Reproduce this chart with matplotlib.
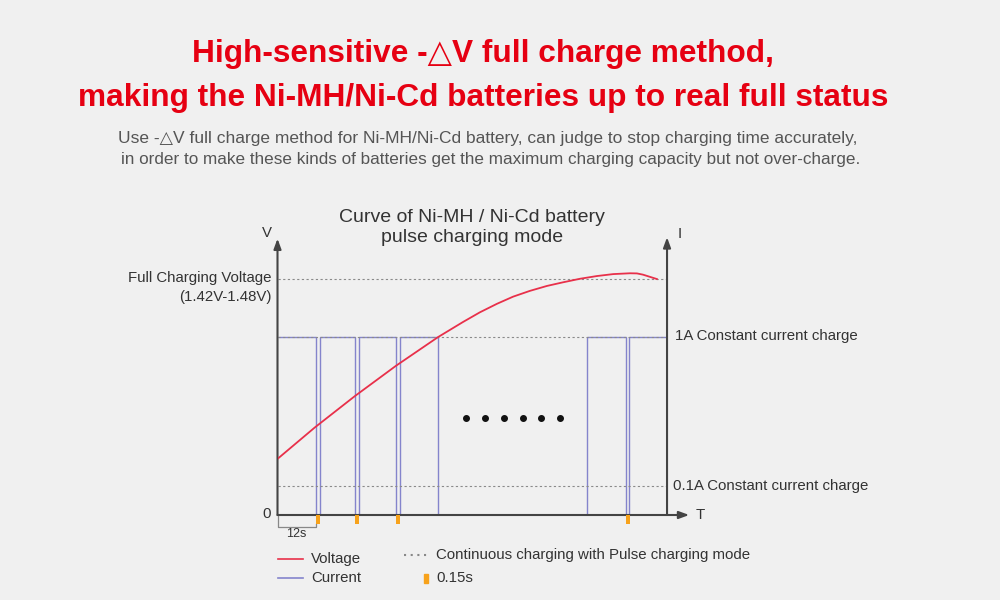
import matplotlib
matplotlib.use("Agg")
import matplotlib.pyplot as plt
from matplotlib.lines import Line2D
from matplotlib.patches import Rectangle

plt.rcParams['font.family'] = ['Liberation Sans', 'DejaVu Sans']

# schematic chart: time in seconds (12 s between pulses), height in % of axis
voltage_t = [0, 11.8, 24.5, 37.4, 50.7, 58.6, 63.9, 69.3, 74.4, 79.7, 85.1,
             90.1, 95.5, 100.9, 106.0, 111.3, 113.5, 115.4, 117.6, 119.8]
voltage_lvl = [20.4, 31.85, 43.3, 54.25, 64.7, 70.2, 73.7, 76.8, 79.4, 81.5, 83.3,
               84.6, 85.9, 86.9, 87.6, 87.9, 87.85, 87.4, 86.6, 85.8]

full_v = 85.8      # full charging voltage line
i_high = 64.7      # 1A constant current
i_low = 10.5       # 0.1A constant current

# current trace: values between edges (1A on, 0 during the pulse gap)
current_edges = [0, 12.0, 13.4, 24.5, 25.7, 37.4, 38.7, 50.7, 97.7, 110.0, 111.0, 123.0]
current_vals = [i_high, 0, i_high, 0, i_high, 0, i_high, 0, i_high, 0, i_high]

pulse_start = [12.0, 24.5, 37.4, 110.0]
pulse_len = [1.4, 1.3, 1.3, 1.2]

dots_t = [59.5, 65.6, 71.6, 77.4, 83.2, 89.2]
dots_lvl = 35.2

t_axis_i = 123.0   # position of the current (I) axis
t_max = 130.0

bg = '#f0f0f0'
red = '#e8304a'
blue = '#8484cc'
orange = '#f7a21b'
axis_col = '#444444'
txt = '#333333'
fs = 10.8

fig = plt.figure(figsize=(10, 6), dpi=100, facecolor=bg)
ax = fig.add_axes([0.2775, 1 - 515 / 600, 0.4117, 275 / 600])
ax.set_facecolor(bg)
ax.set_xlim(0, t_max)
ax.set_ylim(0, 100)
for s in ax.spines.values():
    s.set_visible(False)
ax.set_xticks([])
ax.set_yticks([])

# reference lines
for lvl in [full_v, i_high, i_low]:
    ax.plot([0, t_axis_i], [lvl, lvl], color='#8a8a8a', lw=0.8,
            linestyle=(0, (2, 2.2)), zorder=3)

# current and voltage
ax.stairs(current_vals, current_edges, baseline=None, color=blue, lw=1.0, zorder=2)
ax.plot(voltage_t, voltage_lvl, color=red, lw=1.3, zorder=4)

# dots
ax.scatter(dots_t, [dots_lvl] * len(dots_t), s=16, color='#111111', zorder=5)

# pulse marks under the time axis
ax.bar(pulse_start, -3.3, width=pulse_len, align='edge', color=orange,
       clip_on=False, zorder=5)

# axes with arrows
arw = dict(arrowstyle='-|>,head_length=0.6,head_width=0.22', color=axis_col,
           lw=1.5, shrinkA=0, shrinkB=0)
ax.annotate('', xy=(0, 100.5), xytext=(0, 0), arrowprops=arw, annotation_clip=False)
ax.annotate('', xy=(t_axis_i, 101), xytext=(t_axis_i, 0), arrowprops=arw,
            annotation_clip=False)
ax.annotate('', xy=(t_max, 0), xytext=(0, 0), arrowprops=arw, annotation_clip=False)

ax.text(-3.2, 102.5, 'V', ha='center', va='center', fontsize=fs, color=txt)
ax.text(t_axis_i + 4.0, 102.2, 'I', ha='center', va='center', fontsize=fs, color=txt)
ax.text(-3.5, 0.2, '0', ha='center', va='center', fontsize=fs, color=txt)
ax.text(t_max + 2.0, 0, 'T', ha='left', va='center', fontsize=fs, color=txt)

# 12s bracket
ax.plot([0, 0, 12.0, 12.0], [0, -4.4, -4.4, -3.3], color='#888888', lw=0.9,
        clip_on=False)
ax.text(6.0, -6.8, '12s', ha='center', va='center', fontsize=9, color=txt)

# side labels
ax.text(-2.0, full_v + 0.3, 'Full Charging Voltage', ha='right', va='center',
        fontsize=fs, color=txt)
ax.text(-2.0, full_v - 6.6, '(1.42V-1.48V)', ha='right', va='center',
        fontsize=fs, color=txt)
ax.text(t_axis_i + 2.5, i_high + 0.3, '1A Constant current charge', ha='left',
        va='center', fontsize=fs, color=txt)
ax.text(t_axis_i + 2.0, i_low, '0.1A Constant current charge', ha='left',
        va='center', fontsize=fs, color=txt)

# chart title
ax.text(61.5, 104.6, 'Curve of Ni-MH / Ni-Cd battery\npulse charging mode',
        ha='center', va='center', fontsize=14, color=txt, linespacing=1.25)

# headline
fig.text(0.483, 1 - 54 / 600, 'High-sensitive -\u25b3V full charge method,',
         ha='center', va='center', fontsize=22.8, weight='bold', color='#e60012')
fig.text(0.483, 1 - 98 / 600, 'making the Ni-MH/Ni-Cd batteries up to real full status',
         ha='center', va='center', fontsize=22.8, weight='bold', color='#e60012')
fig.text(0.488, 1 - 139 / 600,
         'Use -\u25b3V full charge method for Ni-MH/Ni-Cd battery, can judge to stop charging time accurately,',
         ha='center', va='center', fontsize=12.5, color='#555555')
fig.text(0.491, 1 - 160 / 600,
         'in order to make these kinds of batteries get the maximum charging capacity but not over-charge.',
         ha='center', va='center', fontsize=12.3, color='#555555')

# legend
y1, y2 = 1 - 559 / 600, 1 - 578 / 600
fig.add_artist(Line2D([0.278, 0.303], [y1, y1], color=red, lw=1.2))
fig.add_artist(Line2D([0.278, 0.303], [y2, y2], color=blue, lw=1.2))
fig.text(0.311, y1, 'Voltage', ha='left', va='center', fontsize=fs, color=txt)
fig.text(0.311, y2, 'Current', ha='left', va='center', fontsize=fs, color=txt)
y3 = 1 - 555 / 600
fig.add_artist(Line2D([0.404, 0.428], [y3, y3], color='#888888', lw=1.5,
                      linestyle=(0, (1, 2.2))))
fig.text(0.436, y3, 'Continuous charging with Pulse charging mode', ha='left',
         va='center', fontsize=fs, color=txt)
fig.add_artist(Rectangle((0.424, 1 - 583 / 600), 0.004, 9 / 600, color=orange))
fig.text(0.436, y2, '0.15s', ha='left', va='center', fontsize=fs, color=txt)

fig.savefig('out.png', dpi=100, facecolor=bg)
